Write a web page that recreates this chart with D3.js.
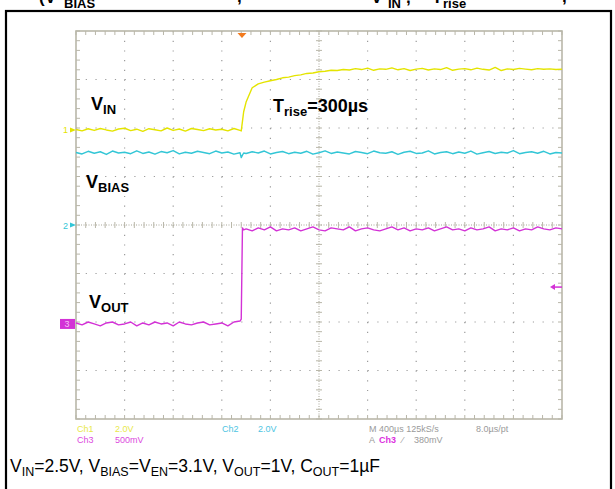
<!DOCTYPE html>
<html>
<head>
<meta charset="utf-8">
<script src="https://cdn.jsdelivr.net/npm/d3@7"></script>
<style>
  html, body { margin: 0; padding: 0; background: #fff; }
  svg { display: block; font-family: 'Liberation Sans', Arial, sans-serif; }
</style>
</head>
<body>
<div id="chart"></div>
<script>
let width = 615
let height = 489

// time base, ms (10 div x 400us)
let timeMs = [
	0, 0.05, 0.1, 0.15, 0.2, 0.25, 0.3, 0.35, 0.4, 0.45, 0.5, 0.55, 0.6, 0.65,
	0.7, 0.75, 0.8, 0.85, 0.9, 0.95, 1.0, 1.05, 1.1, 1.15, 1.2, 1.25, 1.3, 1.35,
	1.36, 1.37, 1.38,
	1.4, 1.45, 1.5, 1.55, 1.6, 1.65, 1.7, 1.75, 1.8, 1.85, 1.9, 1.95, 2.0, 2.05,
	2.1, 2.15, 2.2, 2.25, 2.3, 2.35, 2.4, 2.45, 2.5, 2.55, 2.6, 2.65, 2.7, 2.75,
	2.8, 2.85, 2.9, 2.95, 3.0, 3.05, 3.1, 3.15, 3.2, 3.25, 3.3, 3.35, 3.4, 3.45,
	3.5, 3.55, 3.6, 3.65, 3.7, 3.75, 3.8, 3.85, 3.9, 3.95, 4.0
]

// volts
let vin = [
	0.02, -0.04, 0.05, -0.02, 0.06, 0.00, -0.05, 0.04, 0.07, -0.03, 0.03, -0.06, 0.05, 0.01,
	-0.04, 0.08, -0.02, 0.04, -0.05, 0.06, 0.02, -0.03, 0.05, 0.00, 0.03, -0.04, 0.06, -0.02,
	-0.04, 0.35, 0.75,
	1.15, 1.74, 1.90, 1.97, 2.03, 2.08, 2.15, 2.18, 2.24, 2.27, 2.33, 2.35, 2.40, 2.42,
	2.46, 2.45, 2.49, 2.47, 2.53, 2.49, 2.55, 2.46, 2.52, 2.50, 2.56, 2.48, 2.53, 2.45,
	2.51, 2.54, 2.47, 2.52, 2.49, 2.57, 2.46, 2.51, 2.53, 2.48, 2.55, 2.50, 2.47, 2.58,
	2.45, 2.52, 2.49, 2.54, 2.51, 2.48, 2.53, 2.50, 2.52, 2.49, 2.51
]

let vbias = [
	2.99, 2.93, 3.04, 2.96, 3.02, 2.91, 3.05, 2.97, 3.00, 2.94, 3.06, 2.95, 3.01, 2.92,
	3.03, 2.98, 3.07, 2.93, 3.00, 2.96, 3.04, 2.99, 2.94, 3.05, 2.97, 3.01, 2.92, 2.98,
	2.78, 2.88, 2.97,
	2.95, 3.02, 2.97, 3.05, 2.93, 2.99, 3.03, 2.94, 3.00, 2.96, 3.04, 2.92, 2.98, 3.06,
	2.95, 3.01, 2.97, 2.93, 3.03, 2.99, 2.94, 3.05, 2.98, 2.96, 3.02, 2.91, 3.00, 3.04,
	2.95, 2.97, 3.06, 2.93, 2.99, 3.02, 2.94, 3.01, 2.96, 3.05, 2.92, 2.98, 3.03, 2.95,
	3.00, 2.97, 3.07, 2.94, 2.99, 3.02, 2.96, 3.04, 2.93, 2.99, 2.97
]

let vout = [
	0.01, -0.01, 0.02, 0.00, -0.02, 0.01, 0.02, -0.01, 0.00, 0.02, -0.02, 0.01, -0.01, 0.02,
	0.00, 0.01, -0.02, 0.02, 0.00, -0.01, 0.01, 0.02, -0.01, 0.00, 0.01, -0.02, 0.02, 0.03,
	0.05, 0.99, 0.97,
	0.98, 0.96, 0.99, 0.97, 1.00, 0.96, 0.98, 0.97, 0.99, 0.96, 0.98, 1.00, 0.97, 0.96,
	0.99, 0.98, 0.97, 1.00, 0.96, 0.98, 0.99, 0.97, 0.96, 0.98, 1.00, 0.97, 0.99, 0.96,
	0.98, 0.97, 0.99, 0.96, 0.98, 1.00, 0.97, 0.98, 0.96, 0.99, 0.97, 0.98, 1.00, 0.96,
	0.98, 0.97, 0.99, 0.96, 0.98, 0.97, 1.00, 0.98, 0.97, 0.99, 0.98
]

let triggerTime = 1.366
let triggerLevel = 0.38

let channels = [
	{ id: 1, values: vin, voltsPerDiv: 2.0, groundDiv: 1.96, color: '#e4e400' },
	{ id: 2, values: vbias, voltsPerDiv: 2.0, groundDiv: 0, color: '#33c6d6' },
	{ id: 3, values: vout, voltsPerDiv: 0.5, groundDiv: -2.04, color: '#d332d6' }
]

let svg = d3
	.select('#chart')
	.append('svg')
	.attr('width', width)
	.attr('height', height)

let x = d3.scaleLinear().domain([0, 4]).range([76, 562])
let y = d3.scaleLinear().domain([-4, 4]).range([419, 31])

let minorX = (x(0.4) - x(0)) / 5
let minorY = (y(-4) - y(-3)) / 5
let gridCol = '#b9b7a9'

// clipped title line above the frame
let title = svg.append('g').attr('font-weight', 'bold').attr('fill', '#000')
title.append('text').attr('x', 39).attr('y', 3).attr('font-size', 17).text('(V')
title.append('text').attr('x', 64).attr('y', 8).attr('font-size', 13).text('BIAS')
title.append('text').attr('x', 237).attr('y', 2).attr('font-size', 17).text(',')
title.append('text').attr('x', 371).attr('y', 3).attr('font-size', 17).text('V')
title.append('text').attr('x', 388).attr('y', 8).attr('font-size', 13).text('IN')
title.append('text').attr('x', 406).attr('y', 3).attr('font-size', 17).text(',')
title.append('text').attr('x', 432).attr('y', 3).attr('font-size', 17).text('T')
title.append('text').attr('x', 443).attr('y', 8).attr('font-size', 13).text('rise')
title.append('text').attr('x', 562).attr('y', 2).attr('font-size', 17).text(',')

// outer frame
svg
	.append('rect')
	.attr('x', 6)
	.attr('y', 11)
	.attr('width', 605)
	.attr('height', 500)
	.attr('fill', '#fff')
	.attr('stroke', '#000')
	.attr('stroke-width', 2.2)

let grid = svg.append('g')

// dotted division lines
d3.range(1, 10).forEach(d => {
	if (d === 5) return
	grid
		.append('line')
		.attr('x1', x(d * 0.4))
		.attr('x2', x(d * 0.4))
		.attr('y1', y(4))
		.attr('y2', y(-4))
		.attr('stroke', '#9c9c9c')
		.attr('stroke-width', 1.2)
		.attr('stroke-dasharray', `1.2 ${minorY - 1.2}`)
})
d3.range(-3, 4).forEach(d => {
	if (d === 0) return
	grid
		.append('line')
		.attr('x1', x(0))
		.attr('x2', x(4))
		.attr('y1', y(d))
		.attr('y2', y(d))
		.attr('stroke', '#9c9c9c')
		.attr('stroke-width', 1.2)
		.attr('stroke-dasharray', `1.2 ${minorX - 1.2}`)
})

// centre cross
grid
	.append('line')
	.attr('x1', x(0)).attr('x2', x(4))
	.attr('y1', y(0)).attr('y2', y(0))
	.attr('stroke', '#a8a698').attr('stroke-dasharray', '1 1.5')
grid
	.append('line')
	.attr('x1', x(2)).attr('x2', x(2))
	.attr('y1', y(4)).attr('y2', y(-4))
	.attr('stroke', '#a8a698').attr('stroke-dasharray', '1 1.5')

// minor ticks on the cross and on the border
let ticksX = d3.range(0, 51).map(i => x(0) + i * minorX)
let ticksY = d3.range(0, 41).map(i => y(4) + i * minorY)
ticksX.forEach(px => {
	grid.append('line').attr('x1', px).attr('x2', px).attr('y1', y(0) - 3).attr('y2', y(0) + 3)
		.attr('stroke', gridCol)
	grid.append('line').attr('x1', px).attr('x2', px).attr('y1', y(4)).attr('y2', y(4) + 4)
		.attr('stroke', gridCol)
	grid.append('line').attr('x1', px).attr('x2', px).attr('y1', y(-4)).attr('y2', y(-4) - 4)
		.attr('stroke', gridCol)
})
ticksY.forEach(py => {
	grid.append('line').attr('x1', x(2) - 3).attr('x2', x(2) + 3).attr('y1', py).attr('y2', py)
		.attr('stroke', gridCol)
	grid.append('line').attr('x1', x(0)).attr('x2', x(0) + 4).attr('y1', py).attr('y2', py)
		.attr('stroke', gridCol)
	grid.append('line').attr('x1', x(4)).attr('x2', x(4) - 4).attr('y1', py).attr('y2', py)
		.attr('stroke', gridCol)
})

grid
	.append('rect')
	.attr('x', x(0))
	.attr('y', y(4))
	.attr('width', x(4) - x(0))
	.attr('height', y(-4) - y(4))
	.attr('fill', 'none')
	.attr('stroke', gridCol)
	.attr('stroke-width', 1.6)

// traces
channels.forEach(ch => {
	let line = d3
		.line()
		.x((d, i) => x(timeMs[i]))
		.y(d => y(ch.groundDiv + d / ch.voltsPerDiv))
	svg
		.append('path')
		.datum(ch.values)
		.attr('d', line)
		.attr('fill', 'none')
		.attr('stroke', ch.color)
		.attr('stroke-width', 1.4)
		.attr('stroke-linejoin', 'round')
})

// ground markers on the left
channels.forEach(ch => {
	let gy = y(ch.groundDiv)
	if (ch.id === 3) {
		svg.append('rect').attr('x', 60).attr('y', gy - 5).attr('width', 15).attr('height', 10)
			.attr('fill', ch.color)
		svg.append('text').attr('x', 67).attr('y', gy + 3.5).attr('font-size', 9)
			.attr('text-anchor', 'middle').attr('fill', '#f4c0f4').text(ch.id)
		return
	}
	svg.append('text').attr('x', 68).attr('y', gy + 3.5).attr('font-size', 9)
		.attr('text-anchor', 'end').attr('fill', ch.color).text(ch.id)
	svg.append('path')
		.attr('d', `M${x(0) - 6},${gy - 2.5}L${x(0)},${gy}L${x(0) - 6},${gy + 2.5}Z`)
		.attr('fill', ch.color)
})

// trigger position and trigger level
let tx = x(triggerTime)
svg
	.append('path')
	.attr('d', `M${tx - 4.5},${y(4) + 2}L${tx + 4.5},${y(4) + 2}L${tx},${y(4) + 7}Z`)
	.attr('fill', '#f27a1e')
let ty = y(channels[2].groundDiv + triggerLevel / channels[2].voltsPerDiv)
svg
	.append('line')
	.attr('x1', x(4) - 10).attr('x2', x(4))
	.attr('y1', ty).attr('y2', ty)
	.attr('stroke', channels[2].color).attr('stroke-width', 1.5)
svg
	.append('path')
	.attr('d', `M${x(4) - 12},${ty}L${x(4) - 7},${ty - 3}L${x(4) - 7},${ty + 3}Z`)
	.attr('fill', channels[2].color)

// signal labels
let subLabel = (px, py, main, sub, extra) => {
	let t = svg.append('text').attr('x', px).attr('y', py).attr('font-weight', 'bold')
		.attr('font-size', 18).attr('fill', '#000')
	t.append('tspan').text(main)
	t.append('tspan').attr('font-size', 13).attr('dy', 4).text(sub)
	if (extra) t.append('tspan').attr('dy', -4).text(extra)
}
subLabel(91, 110, 'V', 'IN')
subLabel(86, 188, 'V', 'BIAS')
subLabel(89, 308, 'V', 'OUT')
subLabel(273, 112, 'T', 'rise', '=300µs')

// scope readout
let readout = svg.append('g').attr('font-size', 9)
let rd = (px, py, txt, col, bold) =>
	readout.append('text').attr('x', px).attr('y', py).attr('fill', col)
		.attr('font-weight', bold ? 'bold' : 'normal').text(txt)
rd(77, 432, 'Ch1', '#e8e84a')
rd(115, 432, '2.0V', '#e8e84a')
rd(77, 443, 'Ch3', '#dc4ade')
rd(115, 443, '500mV', '#dc4ade')
rd(222, 432, 'Ch2', '#4ec4e2')
rd(258, 432, '2.0V', '#4ec4e2')
rd(369, 432, 'M 400µs 125kS/s', '#9a9a9a')
rd(476, 432, '8.0µs/pt', '#9a9a9a')
rd(369, 443, 'A', '#9a9a9a')
rd(379, 443, 'Ch3', '#dc32de', true)
rd(402, 443, '⁄', '#9a9a9a')
rd(414, 443, '380mV', '#9a9a9a')

// caption
let cap = svg.append('text').attr('x', 10).attr('y', 472).attr('font-size', 17.5).attr('fill', '#000')
let capParts = [['V', 'IN', '=2.5V, '], ['V', 'BIAS', '=' ], ['V', 'EN', '=3.1V, '], ['V', 'OUT', '=1V, '], ['C', 'OUT', '=1µF']]
capParts.forEach(p => {
	cap.append('tspan').text(p[0])
	cap.append('tspan').attr('font-size', 12.5).attr('dy', 4).text(p[1])
	cap.append('tspan').attr('dy', -4).text(p[2])
})
</script>
</body>
</html>
